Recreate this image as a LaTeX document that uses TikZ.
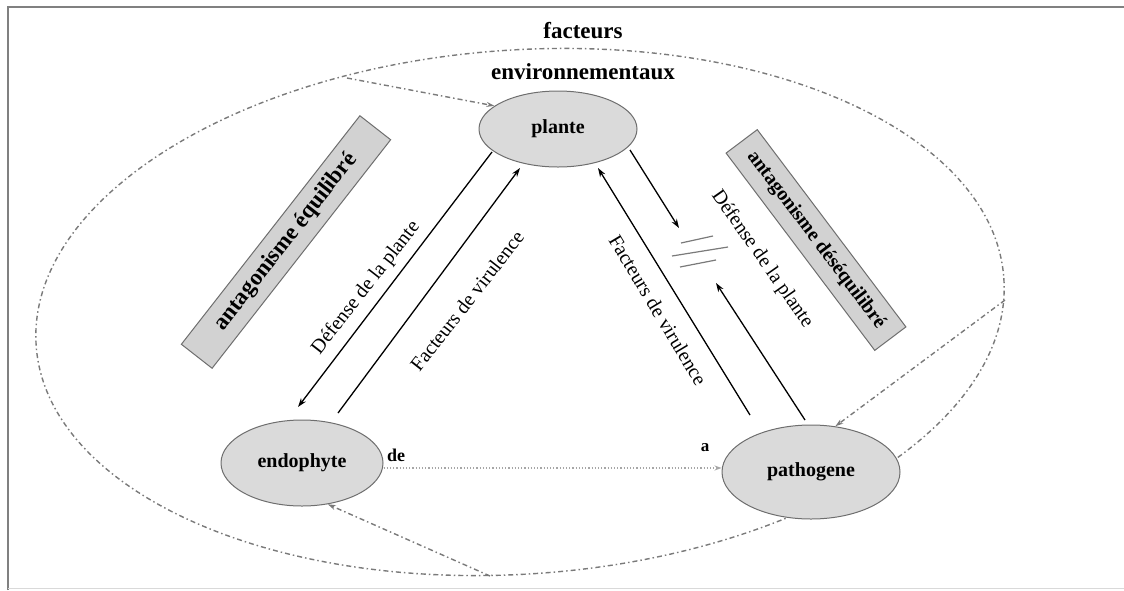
\documentclass[tikz,border=0pt]{standalone}
\usepackage{fontspec}
\setmainfont{Liberation Serif}
\usetikzlibrary{arrows.meta,shapes.geometric}
\definecolor{fillg}{HTML}{DADADA}
\definecolor{boxg}{HTML}{D2D2D2}
\definecolor{edgeg}{HTML}{6E6E6E}
\definecolor{dashg}{HTML}{7A7A7A}
\tikzset{
  org/.style={ellipse, draw=edgeg, line width=1pt, fill=fillg, font=\bfseries\fontsize{20}{22}\selectfont, inner sep=0pt},
  bandbox/.style={draw=edgeg, line width=1pt, fill=boxg, minimum width=#1, minimum height=39pt, inner sep=0pt},
  flow/.style={line width=1.3pt, -{Stealth[length=9pt,width=6pt]}},
  lab/.style={font=\fontsize{20}{22}\selectfont, inner sep=0pt},
  env/.style={dashg, line width=1.4pt, dash pattern=on 5pt off 3pt on 1.5pt off 3pt},
  envarrow/.style={env, -{Stealth[length=8pt,width=5pt]}},
  ttl/.style={font=\bfseries\fontsize{23}{25}\selectfont},
}
\begin{document}
\begin{tikzpicture}[x=1pt,y=-1pt]
\useasboundingbox (0,0) rectangle (1124,590);
% frame
\draw[gray, line width=1.5pt] (8,590) -- (8,7) -- (1124,7);
\draw[gray!30, line width=1pt] (8,588) -- (1124,588);
% outer environment ellipse
\draw[env, rotate around={4:(520,312)}] (520,312) ellipse [x radius=485, y radius=262];
% title
\node[ttl] (t1) at (583,31) {facteurs};
\node[ttl] (t2) at (583,72) {environnementaux};
% organisms
\node[org, minimum width=158pt, minimum height=76pt] (plante) at (558,129) {plante};
\node[org, minimum width=162pt, minimum height=86pt] (endo) at (302,463) {endophyte};
\node[org, minimum width=178pt, minimum height=94pt] (patho) at (811,472) {pathogene};
% bands
\node[bandbox=290pt, rotate=52, font=\bfseries\fontsize{23}{25}\selectfont] (bl) at (286,242) {antagonisme équilibré};
\node[bandbox=247pt, rotate=-53, font=\bfseries\fontsize{20}{22}\selectfont] (br) at (816,240) {antagonisme déséquilibré};
% left arrows
\coordinate (l1s) at (492,152); \coordinate (l1e) at (298,407);
\coordinate (l2s) at (338,413); \coordinate (l2e) at (520,168);
\draw[flow] (l1s) -- (l1e);
\draw[flow] (l2s) -- (l2e);
\node[lab, rotate=52] (ld) at (366,288) {Défense de la plante};
\node[lab, rotate=52] (lf) at (467,301) {Facteurs de virulence};
% right arrows
\coordinate (r1s) at (750,415); \coordinate (r1e) at (598,168);
\coordinate (r2s) at (630,150); \coordinate (r2e) at (679,228);
\coordinate (r3s) at (805,420); \coordinate (r3e) at (716,283);
\draw[flow] (r1s) -- (r1e);
\draw[flow] (r2s) -- (r2e);
\draw[flow] (r3s) -- (r3e);
\node[lab, rotate=-59] (rf) at (658,310) {Facteurs de virulence};
\node[lab, rotate=-55] (rd) at (762,259) {Défense de la plante};
% equality marks
\draw[dashg, line width=1.2pt] (681,243) -- (713,236);
\draw[dashg, line width=1.2pt] (672,256) -- (728,247);
\draw[dashg, line width=1.2pt] (680,267) -- (716,260);
% endophyte -> pathogene
\draw[gray!70, line width=1.2pt, dotted, -{Stealth[length=7pt,width=5pt]}] (endo.east |- 0,468) -- (patho.west |- 0,468);
\node[font=\bfseries\fontsize{18}{20}\selectfont] (de) at (396,455) {de};
\node[font=\bfseries\fontsize{17}{18}\selectfont] (a) at (705,448) {a};
% environment arrows
\coordinate (e1) at (347,78);
\coordinate (e2) at (1005,300);
\coordinate (e3) at (490,576);
\draw[envarrow] (e1) -- (plante.160);
\draw[envarrow] (e2) -- (patho.62);
\draw[envarrow] (e3) -- (endo.-58);
\end{tikzpicture}
\end{document}
